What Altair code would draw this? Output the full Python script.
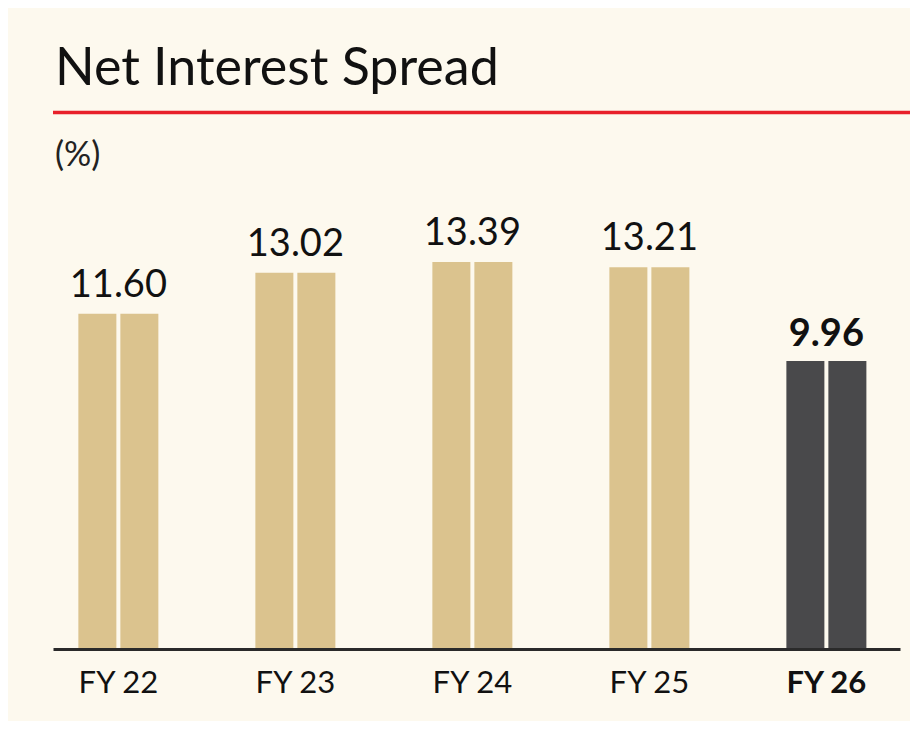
import altair as alt
import pandas as pd

years = ["FY 22", "FY 23", "FY 24", "FY 25", "FY 26"]
values = [11.60, 13.02, 13.39, 13.21, 9.96]
value_labels = ["11.60", "13.02", "13.39", "13.21", "9.96"]
groups = ["past", "past", "past", "past", "current"]
halves = ["left", "right"]

title_text = "Net Interest Spread"
unit_text = "(%)"

BG = "#FDF9EE"
TAN = "#DBC38E"
DARK = "#49494B"
RED = "#E8202A"
FONT = "Lato"

bars_df = pd.DataFrame(
    [
        {"year": y, "value": v, "group": g, "half": h}
        for y, v, g in zip(years, values, groups)
        for h in halves
    ]
)
labels_df = pd.DataFrame(
    {"year": years, "value": values, "label": value_labels, "group": groups}
)
one = pd.DataFrame({"k": [0]})

x_scale = alt.Scale(domain=years, paddingInner=0.548, paddingOuter=0.1666, align=0.43)
y_scale = alt.Scale(domain=[0, 18.3])

x_enc = alt.X(
    "year:N",
    scale=x_scale,
    sort=years,
    title=None,
    axis=alt.Axis(
        labelFontSize=31,
        labelFont=FONT,
        labelColor="#111111",
        labelAngle=0,
        labelPadding=19,
        labelFontWeight=alt.ExprRef(expr="datum.value == 'FY 26' ? 'bold' : 'normal'"),
        ticks=False,
        tickSize=0,
        domainColor="#2A2A2A",
        domainWidth=3,
        grid=False,
        zindex=1,
    ),
)

bars = alt.Chart(bars_df).mark_bar().encode(
    x=x_enc,
    xOffset=alt.XOffset("half:N", sort=halves, scale=alt.Scale(paddingInner=0.095, paddingOuter=0)),
    y=alt.Y("value:Q", scale=y_scale, axis=None),
    color=alt.Color(
        "group:N",
        scale=alt.Scale(domain=["past", "current"], range=[TAN, DARK]),
        legend=None,
    ),
)

text_normal = (
    alt.Chart(labels_df)
    .transform_filter("datum.group == 'past'")
    .mark_text(baseline="alphabetic", dy=-17, fontSize=38, font=FONT, color="#111111")
    .encode(x=alt.X("year:N", scale=x_scale, sort=years), y=alt.Y("value:Q", scale=y_scale), text="label:N")
)
text_bold = (
    alt.Chart(labels_df)
    .transform_filter("datum.group == 'current'")
    .mark_text(baseline="alphabetic", dy=-15, fontSize=38, font=FONT, fontWeight="bold", color="#111111")
    .encode(x=alt.X("year:N", scale=x_scale, sort=years), y=alt.Y("value:Q", scale=y_scale), text="label:N")
)

title = alt.Chart(one).mark_text(
    align="left", baseline="alphabetic", fontSize=52, font=FONT, color="#111111"
).encode(x=alt.value(2), y=alt.value(-35), text=alt.value(title_text))

unit = alt.Chart(one).mark_text(
    align="left", baseline="alphabetic", fontSize=34, font=FONT, color="#222222"
).encode(x=alt.value(2), y=alt.value(46), text=alt.value(unit_text))

red_line = alt.Chart(one).mark_rule(color=RED, strokeWidth=3.5).encode(
    x=alt.value(0), x2=alt.value(870), y=alt.value(-7.5)
)

chart = (
    alt.layer(bars, text_normal, text_bold, title, unit, red_line)
    .properties(
        width=847,
        height=529,
        background=BG,
        padding={"left": 45, "top": 112, "right": 10, "bottom": 72},
        autosize=alt.AutoSizeParams(type="none"),
    )
    .configure_view(stroke=None)
)

chart.save("out.html", embed_options={"renderer": "svg", "actions": False})
